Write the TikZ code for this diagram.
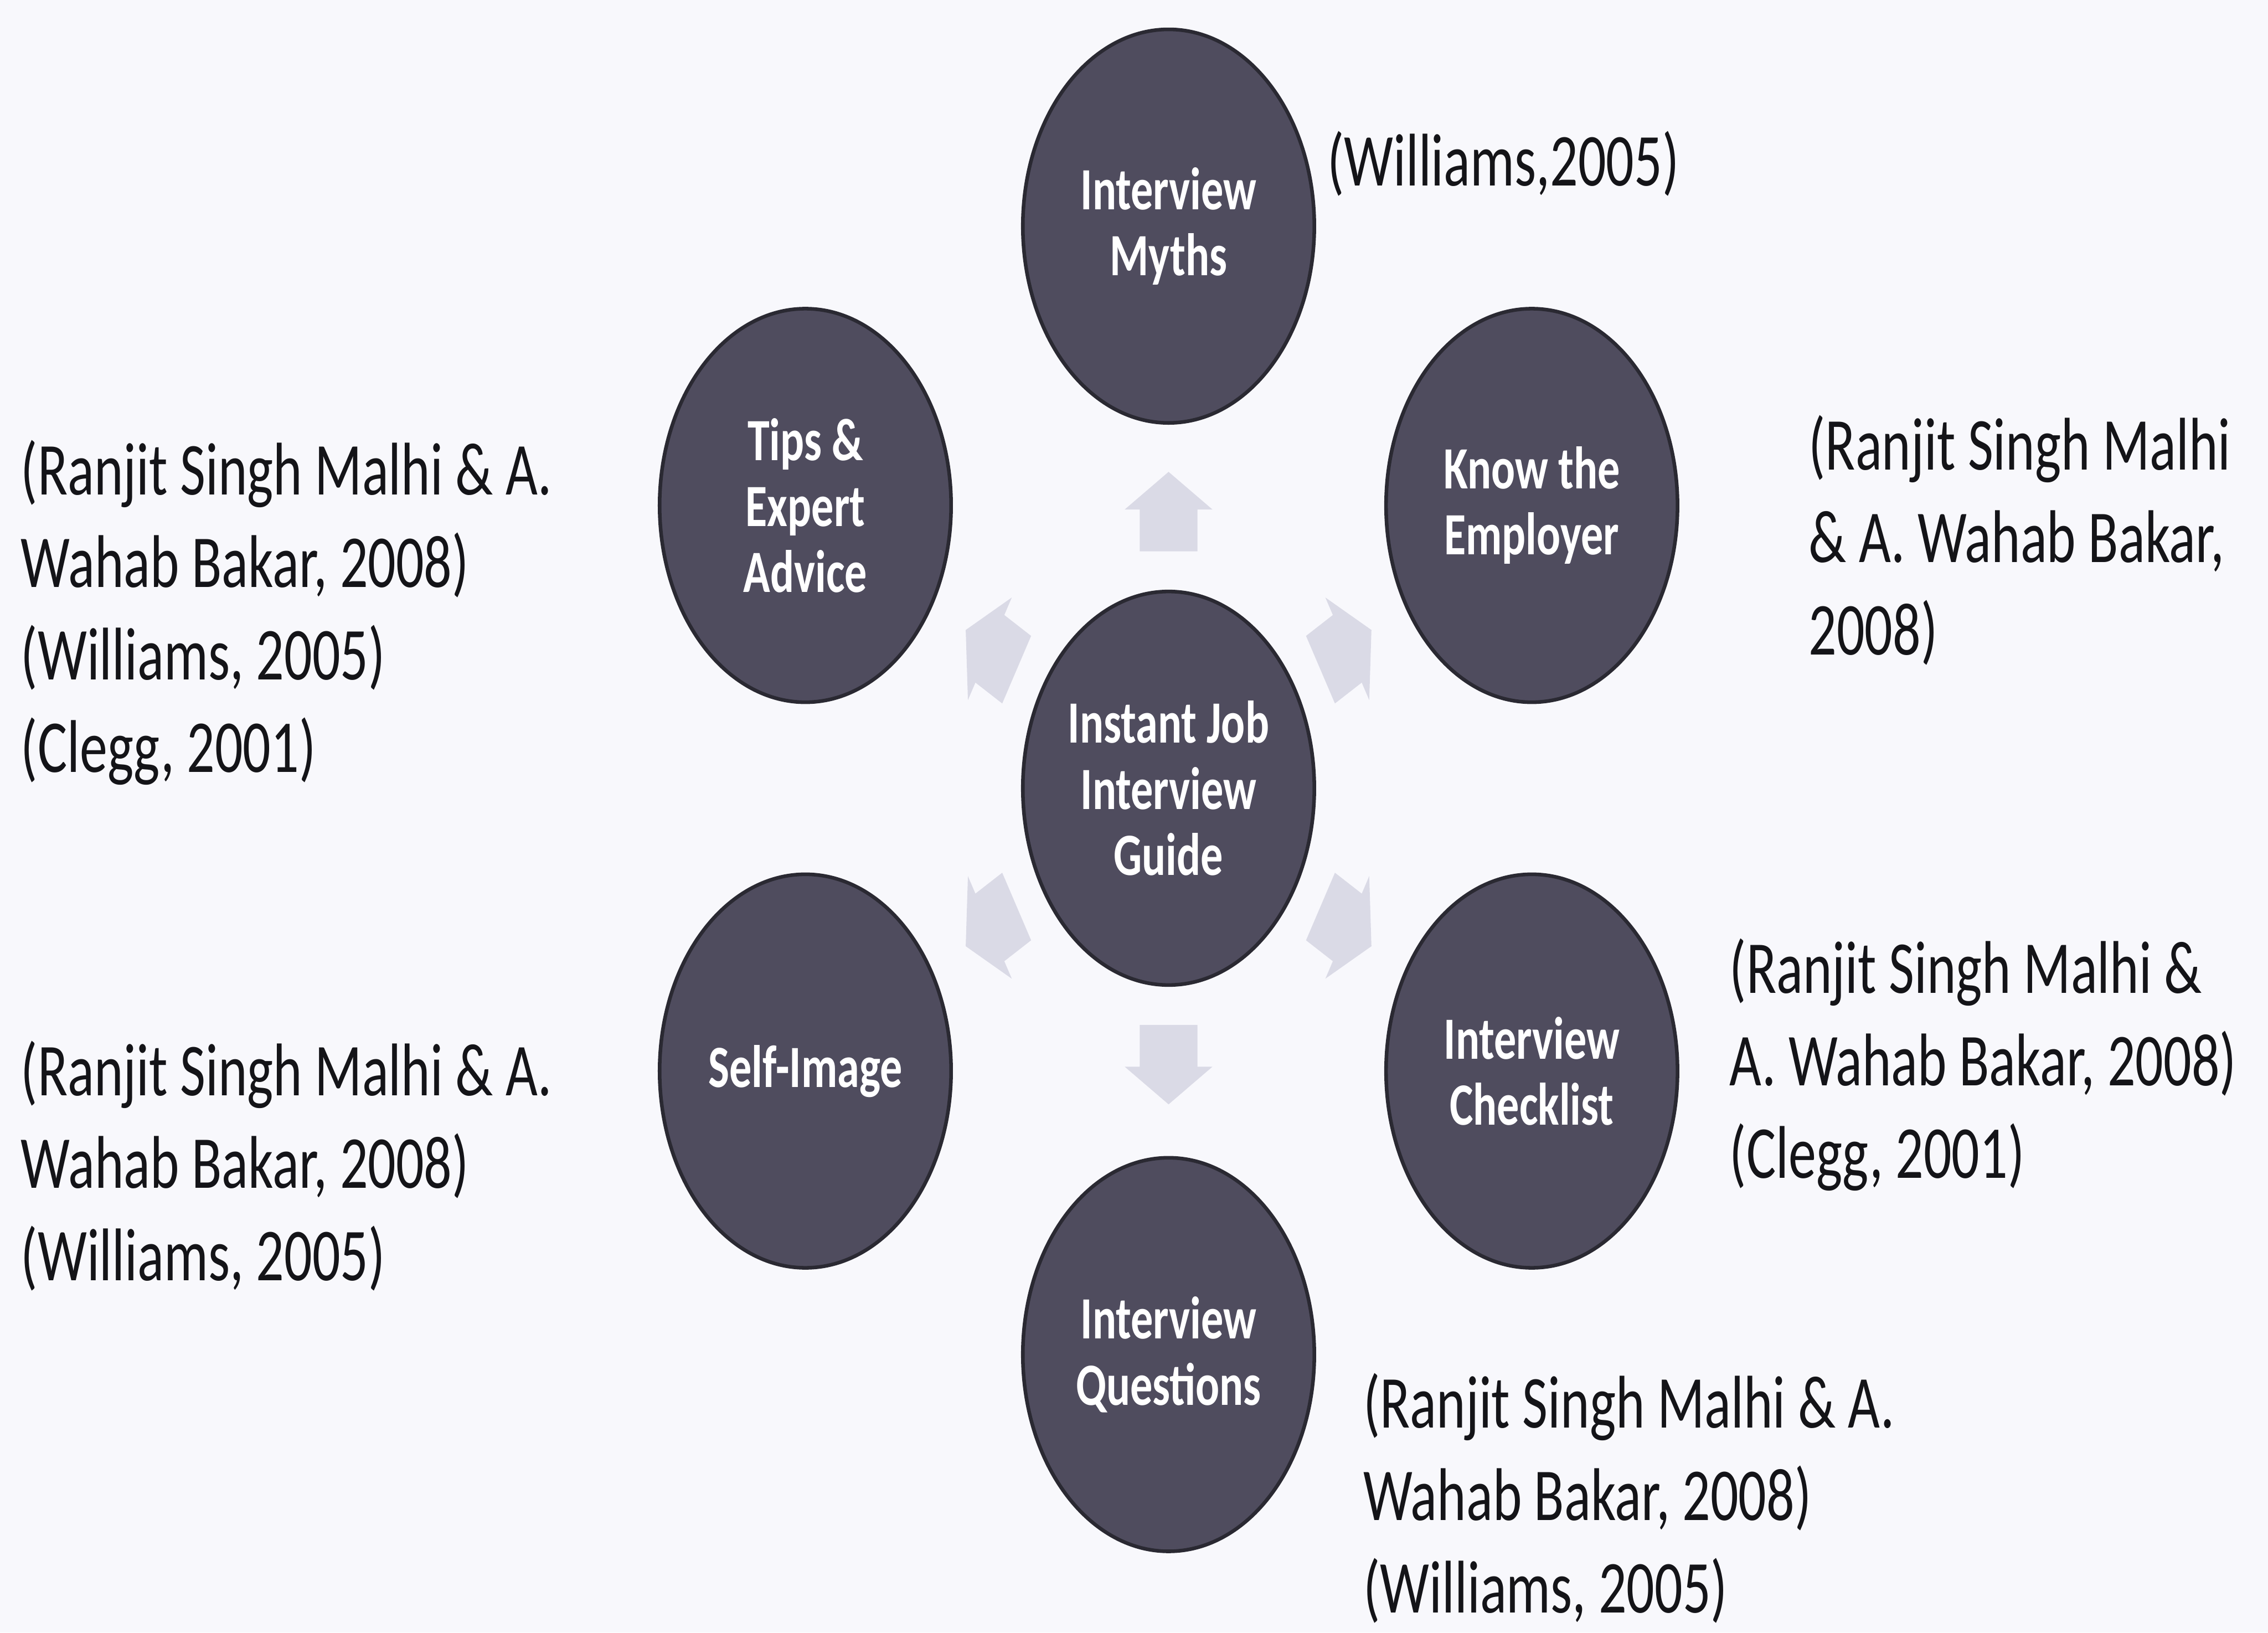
\documentclass[tikz,border=0pt]{standalone}
\usepackage{fontspec}
\setmainfont{Carlito}
\usetikzlibrary{arrows.meta,positioning,calc}
\definecolor{ijgBall}{HTML}{4F4C5E}
\definecolor{ijgRim}{HTML}{2A2932}
\definecolor{ijgArrow}{HTML}{DADAE6}
\definecolor{ijgPaper}{HTML}{F8F8FC}
\definecolor{ijgInk}{HTML}{141418}
\tikzset{
    ball/.style={circle, draw=ijgRim, line width=2pt, fill=ijgBall, minimum size=5.65cm, inner sep=0pt, align=center, text=white, font=\fontsize{24.5}{27}\selectfont\bfseries},
    cite/.style={anchor=west, align=left, inner sep=0pt, text=ijgInk, font=\fontsize{30.5}{37.8}\selectfont},
    spoke/.style={fill=ijgArrow}
}

\begin{document}
\begin{tikzpicture}[yscale=1.35, every node/.append style={transform shape}]
\fill[ijgPaper] (0,0) rectangle (43.96,23.437);
% hub and the six topics round it
\node[ball] (hub) at (22.65,12.12) {Instant Job\\Interview\\Guide};
\node[ball] (myths) at (22.65,20.19) {Interview\\Myths};
\node[ball] (employer) at (29.69,16.18) {Know the\\Employer};
\node[ball] (checklist) at (29.69,8.06) {Interview\\Checklist};
\node[ball] (questions) at (22.65,3.99) {Interview\\Questions};
\node[ball] (selfimage) at (15.61,8.06) {Self-Image};
\node[ball] (tips) at (15.61,16.18) {Tips \&\\Expert\\Advice};
% block arrows pointing out of the hub
\foreach \a in {90,30,-30,-90,-150,150}
  \fill[spoke, shift={(hub.center)}, rotate=\a]
    (3.4,-0.56) -- (4.0,-0.56) -- (4.0,-0.85) -- (4.54,0) -- (4.0,0.85) -- (4.0,0.56) -- (3.4,0.56) -- cycle;
% sources
\node[cite] (citeMyths) at (25.72,21.09) {(Williams,2005)};
\node[cite] (citeEmployer) at (35.05,15.68) {(Ranjit Singh Malhi\\\& A. Wahab Bakar,\\2008)};
\node[cite] (citeChecklist) at (33.52,8.15) {(Ranjit Singh Malhi \&\\A. Wahab Bakar, 2008)\\(Clegg, 2001)};
\node[cite] (citeQuestions) at (26.42,1.93) {(Ranjit Singh Malhi \& A.\\Wahab Bakar, 2008)\\(Williams, 2005)};
\node[cite] (citeSelf) at (0.4,6.70) {(Ranjit Singh Malhi \& A.\\Wahab Bakar, 2008)\\(Williams, 2005)};
\node[cite] (citeTips) at (0.4,14.64) {(Ranjit Singh Malhi \& A.\\Wahab Bakar, 2008)\\(Williams, 2005)\\(Clegg, 2001)};
\end{tikzpicture}
\end{document}
